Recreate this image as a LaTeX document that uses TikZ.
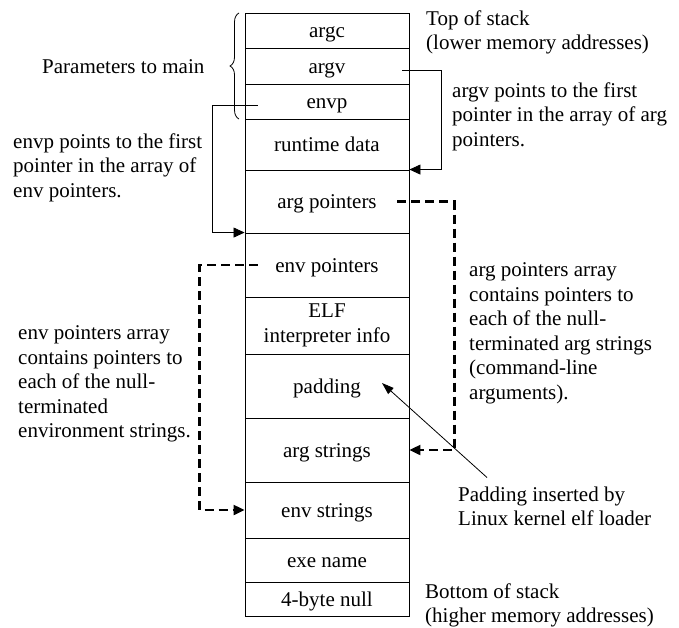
\documentclass[tikz,border=0pt]{standalone}
\usepackage{fontspec}
\setmainfont{Liberation Serif}
\usetikzlibrary{arrows.meta,decorations.pathreplacing}

\begin{document}
\begin{tikzpicture}[
  x=1pt, y=-1pt,
  every node/.style={font=\fontsize{21}{24.5}\selectfont},
  stackcell/.style={rectangle, draw=black, line width=0.9pt, minimum width=164pt,
               inner sep=0pt, align=center},
  cell/.style={stackcell, text height=15pt, text depth=1pt},
  note/.style={anchor=north west, align=left, inner sep=0pt},
  ptr/.style={-{Triangle[length=11pt,width=10pt]}, line width=0.8pt},
  dptr/.style={-{Triangle[length=11pt,width=10pt]}, line width=2.2pt,
               dash pattern=on 9pt off 5pt}
]
\useasboundingbox (0,0) rectangle (679,627);
% Stack cells, top to bottom
\node[cell, minimum height=35pt] (argc)     at (327,30.5)  {argc};
\node[cell, minimum height=36pt] (argv)     at (327,66)    {argv};
\node[cell, minimum height=35pt] (envp)     at (327,101.5) {envp};
\node[cell, minimum height=51pt] (rtdata)   at (327,144.5) {runtime data};
\node[cell, minimum height=63pt] (argptrs)  at (327,201.5) {arg pointers};
\node[cell, minimum height=64pt] (envptrs)  at (327,265)   {env pointers};
\node[stackcell, minimum height=57pt] (elfinfo) at (327,325.5) {ELF\\interpreter info};
\node[cell, minimum height=64pt] (padding)  at (327,386)   {padding};
\node[cell, minimum height=64pt] (argstrs)  at (327,450)   {arg strings};
\node[cell, minimum height=56pt] (envstrs)  at (327,510)   {env strings};
\node[cell, minimum height=44pt] (exename)  at (327,560)   {exe name};
\node[cell, minimum height=34pt] (nullword) at (327,599)   {4-byte null};
% Brace over the parameters
\draw[line width=0.8pt, decorate, decoration={brace, amplitude=9pt}]
  (239,119) -- (239,13);
\node[anchor=base west, inner sep=0pt] (params) at (42,73) {Parameters to main};
% Notes
\node[note] (topnote) at (426,10.5)
  {Top of stack\\(lower memory addresses)};
\node[note] (argvnote) at (452,82.5)
  {argv points to the first\\pointer in the array of arg\\pointers.};
\node[note] (envpnote) at (13,133.5)
  {envp points to the first\\pointer in the array of\\env pointers.};
\node[note] (argptrnote) at (469,262.5)
  {arg pointers array\\contains pointers to\\each of the null-\\terminated arg strings\\(command-line\\arguments).};
\node[note] (envptrnote) at (18,325.5)
  {env pointers array\\contains pointers to\\each of the null-\\terminated\\environment strings.};
\node[note] (padnote) at (458,486.5)
  {Padding inserted by\\Linux kernel elf loader};
\node[note] (botnote) at (425,583.5)
  {Bottom of stack\\(higher memory addresses)};
% Pointer arrows
\draw[ptr] ([xshift=-7pt,yshift=-4pt]argv.east) -- ++(39,0) |- (argptrs.north east);
\draw[ptr] ([xshift=13pt,yshift=-4pt]envp.west) -- ++(-45,0) |- (envptrs.north west);
\draw[dptr] ([xshift=-12pt]argptrs.east) -- ++(57,0) |- (argstrs.east);
\draw[dptr] ([xshift=13pt]envptrs.west) -- ++(-58,0) |- (envstrs.west);
% Padding callout
\coordinate (padtip) at ([xshift=55pt,yshift=3pt]padding.center);
\draw[-{Triangle[length=12pt,width=8pt]}, line width=0.8pt]
  ([xshift=29pt,yshift=9pt]padnote.north west) -- (padtip);
\end{tikzpicture}
\end{document}
